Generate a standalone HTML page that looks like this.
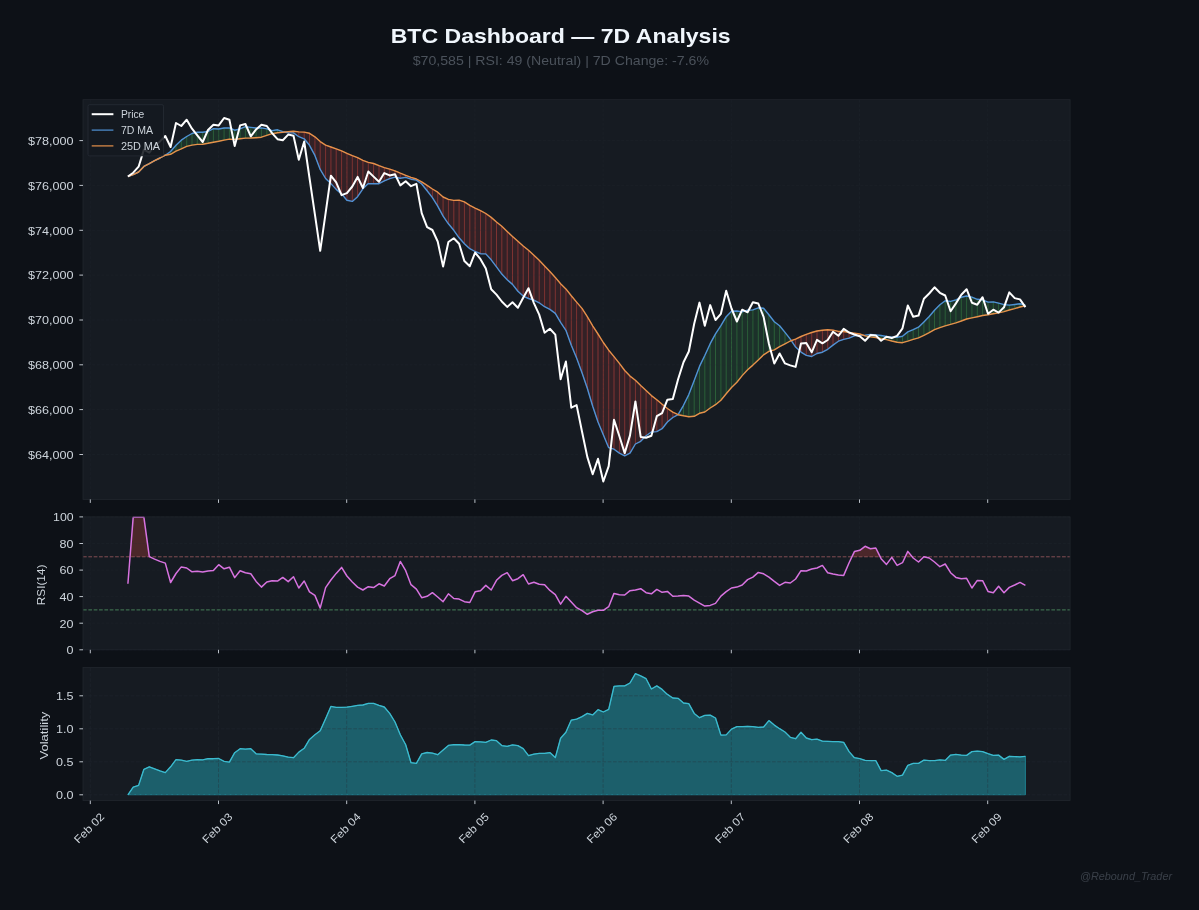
<!DOCTYPE html>
<html><head><meta charset="utf-8"><title>BTC Dashboard</title>
<style>html,body{margin:0;padding:0;background:#0d1117;overflow:hidden}svg{display:block;transform:translateZ(0);will-change:transform}</style></head>
<body>
<svg width="1199" height="910" viewBox="0 0 1199 910" font-family="Liberation Sans, sans-serif">
<rect width="1199" height="910" fill="#0d1117"/>
<text x="390.7" y="43.3" font-size="20.5" fill="#f0f6fc" text-anchor="start" textLength="340" lengthAdjust="spacingAndGlyphs" font-weight="bold">BTC Dashboard — 7D Analysis</text>
<text x="412.7" y="65" font-size="13" fill="#4b525b" text-anchor="start" textLength="296.3" lengthAdjust="spacingAndGlyphs">$70,585 | RSI: 49 (Neutral) | 7D Change: -7.6%</text>
<rect x="83.0" y="99.7" width="987.1" height="399.7" fill="#161b22"/>
<g>
<polygon points="165.3,155.2 170.6,151.5 170.6,154.3 165.3,155.2" fill="#48b85a" fill-opacity="0.14" stroke="#48b85a" stroke-opacity="0.24" stroke-width="0.8"/>
<polygon points="170.6,151.5 176,145.3 176,151.2 170.6,154.3" fill="#48b85a" fill-opacity="0.14" stroke="#48b85a" stroke-opacity="0.24" stroke-width="0.8"/>
<polygon points="176,145.3 181.3,140.2 181.3,148.9 176,151.2" fill="#48b85a" fill-opacity="0.14" stroke="#48b85a" stroke-opacity="0.24" stroke-width="0.8"/>
<polygon points="181.3,140.2 186.7,136.5 186.7,146.4 181.3,148.9" fill="#48b85a" fill-opacity="0.14" stroke="#48b85a" stroke-opacity="0.24" stroke-width="0.8"/>
<polygon points="186.7,136.5 192,133.5 192,145.1 186.7,146.4" fill="#48b85a" fill-opacity="0.14" stroke="#48b85a" stroke-opacity="0.24" stroke-width="0.8"/>
<polygon points="192,133.5 197.3,132.1 197.3,144.4 192,145.1" fill="#48b85a" fill-opacity="0.14" stroke="#48b85a" stroke-opacity="0.24" stroke-width="0.8"/>
<polygon points="197.3,132.1 202.7,132.2 202.7,144.2 197.3,144.4" fill="#48b85a" fill-opacity="0.14" stroke="#48b85a" stroke-opacity="0.24" stroke-width="0.8"/>
<polygon points="202.7,132.2 208,131.5 208,143.3 202.7,144.2" fill="#48b85a" fill-opacity="0.14" stroke="#48b85a" stroke-opacity="0.24" stroke-width="0.8"/>
<polygon points="208,131.5 213.4,128.7 213.4,142.2 208,143.3" fill="#48b85a" fill-opacity="0.14" stroke="#48b85a" stroke-opacity="0.24" stroke-width="0.8"/>
<polygon points="213.4,128.7 218.7,129 218.7,141.3 213.4,142.2" fill="#48b85a" fill-opacity="0.14" stroke="#48b85a" stroke-opacity="0.24" stroke-width="0.8"/>
<polygon points="218.7,129 224.1,128 224.1,140.1 218.7,141.3" fill="#48b85a" fill-opacity="0.14" stroke="#48b85a" stroke-opacity="0.24" stroke-width="0.8"/>
<polygon points="224.1,128 229.4,128 229.4,139.1 224.1,140.1" fill="#48b85a" fill-opacity="0.14" stroke="#48b85a" stroke-opacity="0.24" stroke-width="0.8"/>
<polygon points="229.4,128 234.7,130.2 234.7,139.4 229.4,139.1" fill="#48b85a" fill-opacity="0.14" stroke="#48b85a" stroke-opacity="0.24" stroke-width="0.8"/>
<polygon points="234.7,130.2 240.1,128.9 240.1,138.8 234.7,139.4" fill="#48b85a" fill-opacity="0.14" stroke="#48b85a" stroke-opacity="0.24" stroke-width="0.8"/>
<polygon points="240.1,128.9 245.4,126.7 245.4,138.1 240.1,138.8" fill="#48b85a" fill-opacity="0.14" stroke="#48b85a" stroke-opacity="0.24" stroke-width="0.8"/>
<polygon points="245.4,126.7 250.8,127.4 250.8,138 245.4,138.1" fill="#48b85a" fill-opacity="0.14" stroke="#48b85a" stroke-opacity="0.24" stroke-width="0.8"/>
<polygon points="250.8,127.4 256.1,128 256.1,137.7 250.8,138" fill="#48b85a" fill-opacity="0.14" stroke="#48b85a" stroke-opacity="0.24" stroke-width="0.8"/>
<polygon points="256.1,128 261.4,127.9 261.4,137.2 256.1,137.7" fill="#48b85a" fill-opacity="0.14" stroke="#48b85a" stroke-opacity="0.24" stroke-width="0.8"/>
<polygon points="261.4,127.9 266.8,128.9 266.8,135.3 261.4,137.2" fill="#48b85a" fill-opacity="0.14" stroke="#48b85a" stroke-opacity="0.24" stroke-width="0.8"/>
<polygon points="266.8,128.9 272.1,130.6 272.1,133.7 266.8,135.3" fill="#48b85a" fill-opacity="0.14" stroke="#48b85a" stroke-opacity="0.24" stroke-width="0.8"/>
<polygon points="272.1,130.6 277.5,129.8 277.5,132.7 272.1,133.7" fill="#48b85a" fill-opacity="0.14" stroke="#48b85a" stroke-opacity="0.24" stroke-width="0.8"/>
<polygon points="277.5,129.8 282.8,131.6 282.8,132.3 277.5,132.7" fill="#48b85a" fill-opacity="0.14" stroke="#48b85a" stroke-opacity="0.24" stroke-width="0.8"/>
<polygon points="282.8,131.6 288.2,132.9 288.2,131.6 282.8,132.3" fill="#f85149" fill-opacity="0.13" stroke="#f85149" stroke-opacity="0.28" stroke-width="0.8"/>
<polygon points="288.2,132.9 293.5,132.9 293.5,131.2 288.2,131.6" fill="#f85149" fill-opacity="0.13" stroke="#f85149" stroke-opacity="0.28" stroke-width="0.8"/>
<polygon points="293.5,132.9 298.8,136.7 298.8,131.9 293.5,131.2" fill="#f85149" fill-opacity="0.13" stroke="#f85149" stroke-opacity="0.28" stroke-width="0.8"/>
<polygon points="298.8,136.7 304.2,138.8 304.2,132.1 298.8,131.9" fill="#f85149" fill-opacity="0.13" stroke="#f85149" stroke-opacity="0.28" stroke-width="0.8"/>
<polygon points="304.2,138.8 309.5,145.3 309.5,133.3 304.2,132.1" fill="#f85149" fill-opacity="0.13" stroke="#f85149" stroke-opacity="0.28" stroke-width="0.8"/>
<polygon points="309.5,145.3 314.9,155.4 314.9,136.8 309.5,133.3" fill="#f85149" fill-opacity="0.13" stroke="#f85149" stroke-opacity="0.28" stroke-width="0.8"/>
<polygon points="314.9,155.4 320.2,169.4 320.2,141.6 314.9,136.8" fill="#f85149" fill-opacity="0.13" stroke="#f85149" stroke-opacity="0.28" stroke-width="0.8"/>
<polygon points="320.2,169.4 325.6,178.5 325.6,145.2 320.2,141.6" fill="#f85149" fill-opacity="0.13" stroke="#f85149" stroke-opacity="0.28" stroke-width="0.8"/>
<polygon points="325.6,178.5 330.9,183.6 330.9,147 325.6,145.2" fill="#f85149" fill-opacity="0.13" stroke="#f85149" stroke-opacity="0.28" stroke-width="0.8"/>
<polygon points="330.9,183.6 336.2,189.4 336.2,148.8 330.9,147" fill="#f85149" fill-opacity="0.13" stroke="#f85149" stroke-opacity="0.28" stroke-width="0.8"/>
<polygon points="336.2,189.4 341.6,193.9 341.6,150.9 336.2,148.8" fill="#f85149" fill-opacity="0.13" stroke="#f85149" stroke-opacity="0.28" stroke-width="0.8"/>
<polygon points="341.6,193.9 346.9,200.3 346.9,153.3 341.6,150.9" fill="#f85149" fill-opacity="0.13" stroke="#f85149" stroke-opacity="0.28" stroke-width="0.8"/>
<polygon points="346.9,200.3 352.3,201.4 352.3,155.7 346.9,153.3" fill="#f85149" fill-opacity="0.13" stroke="#f85149" stroke-opacity="0.28" stroke-width="0.8"/>
<polygon points="352.3,201.4 357.6,196.7 357.6,157.7 352.3,155.7" fill="#f85149" fill-opacity="0.13" stroke="#f85149" stroke-opacity="0.28" stroke-width="0.8"/>
<polygon points="357.6,196.7 362.9,188.8 362.9,160.4 357.6,157.7" fill="#f85149" fill-opacity="0.13" stroke="#f85149" stroke-opacity="0.28" stroke-width="0.8"/>
<polygon points="362.9,188.8 368.3,183.6 368.3,162.4 362.9,160.4" fill="#f85149" fill-opacity="0.13" stroke="#f85149" stroke-opacity="0.28" stroke-width="0.8"/>
<polygon points="368.3,183.6 373.6,183.8 373.6,163.5 368.3,162.4" fill="#f85149" fill-opacity="0.13" stroke="#f85149" stroke-opacity="0.28" stroke-width="0.8"/>
<polygon points="373.6,183.8 379,183.7 379,165.7 373.6,163.5" fill="#f85149" fill-opacity="0.13" stroke="#f85149" stroke-opacity="0.28" stroke-width="0.8"/>
<polygon points="379,183.7 384.3,180.9 384.3,167.6 379,165.7" fill="#f85149" fill-opacity="0.13" stroke="#f85149" stroke-opacity="0.28" stroke-width="0.8"/>
<polygon points="384.3,180.9 389.7,178.7 389.7,169.1 384.3,167.6" fill="#f85149" fill-opacity="0.13" stroke="#f85149" stroke-opacity="0.28" stroke-width="0.8"/>
<polygon points="389.7,178.7 395,177.2 395,170.8 389.7,169.1" fill="#f85149" fill-opacity="0.13" stroke="#f85149" stroke-opacity="0.28" stroke-width="0.8"/>
<polygon points="395,177.2 400.3,178.2 400.3,173.2 395,170.8" fill="#f85149" fill-opacity="0.13" stroke="#f85149" stroke-opacity="0.28" stroke-width="0.8"/>
<polygon points="400.3,178.2 405.7,177.4 405.7,175.3 400.3,173.2" fill="#f85149" fill-opacity="0.13" stroke="#f85149" stroke-opacity="0.28" stroke-width="0.8"/>
<polygon points="405.7,177.4 411,179.2 411,177.3 405.7,175.3" fill="#f85149" fill-opacity="0.13" stroke="#f85149" stroke-opacity="0.28" stroke-width="0.8"/>
<polygon points="411,179.2 416.4,180.1 416.4,179 411,177.3" fill="#f85149" fill-opacity="0.13" stroke="#f85149" stroke-opacity="0.28" stroke-width="0.8"/>
<polygon points="416.4,180.1 421.7,184 421.7,181.8 416.4,179" fill="#f85149" fill-opacity="0.13" stroke="#f85149" stroke-opacity="0.28" stroke-width="0.8"/>
<polygon points="421.7,184 427.1,190.8 427.1,185.4 421.7,181.8" fill="#f85149" fill-opacity="0.13" stroke="#f85149" stroke-opacity="0.28" stroke-width="0.8"/>
<polygon points="427.1,190.8 432.4,197.6 432.4,189 427.1,185.4" fill="#f85149" fill-opacity="0.13" stroke="#f85149" stroke-opacity="0.28" stroke-width="0.8"/>
<polygon points="432.4,197.6 437.7,206.1 437.7,192.2 432.4,189" fill="#f85149" fill-opacity="0.13" stroke="#f85149" stroke-opacity="0.28" stroke-width="0.8"/>
<polygon points="437.7,206.1 443.1,216.2 443.1,197 437.7,192.2" fill="#f85149" fill-opacity="0.13" stroke="#f85149" stroke-opacity="0.28" stroke-width="0.8"/>
<polygon points="443.1,216.2 448.4,223.8 448.4,199.4 443.1,197" fill="#f85149" fill-opacity="0.13" stroke="#f85149" stroke-opacity="0.28" stroke-width="0.8"/>
<polygon points="448.4,223.8 453.8,230.3 453.8,200.4 448.4,199.4" fill="#f85149" fill-opacity="0.13" stroke="#f85149" stroke-opacity="0.28" stroke-width="0.8"/>
<polygon points="453.8,230.3 459.1,237.8 459.1,200.1 453.8,200.4" fill="#f85149" fill-opacity="0.13" stroke="#f85149" stroke-opacity="0.28" stroke-width="0.8"/>
<polygon points="459.1,237.8 464.4,243.8 464.4,201.9 459.1,200.1" fill="#f85149" fill-opacity="0.13" stroke="#f85149" stroke-opacity="0.28" stroke-width="0.8"/>
<polygon points="464.4,243.8 469.8,248.7 469.8,205.4 464.4,201.9" fill="#f85149" fill-opacity="0.13" stroke="#f85149" stroke-opacity="0.28" stroke-width="0.8"/>
<polygon points="469.8,248.7 475.1,251.5 475.1,208.1 469.8,205.4" fill="#f85149" fill-opacity="0.13" stroke="#f85149" stroke-opacity="0.28" stroke-width="0.8"/>
<polygon points="475.1,251.5 480.5,253.7 480.5,210.6 475.1,208.1" fill="#f85149" fill-opacity="0.13" stroke="#f85149" stroke-opacity="0.28" stroke-width="0.8"/>
<polygon points="480.5,253.7 485.8,253.9 485.8,213.5 480.5,210.6" fill="#f85149" fill-opacity="0.13" stroke="#f85149" stroke-opacity="0.28" stroke-width="0.8"/>
<polygon points="485.8,253.9 491.2,259.8 491.2,217.4 485.8,213.5" fill="#f85149" fill-opacity="0.13" stroke="#f85149" stroke-opacity="0.28" stroke-width="0.8"/>
<polygon points="491.2,259.8 496.5,266.9 496.5,222 491.2,217.4" fill="#f85149" fill-opacity="0.13" stroke="#f85149" stroke-opacity="0.28" stroke-width="0.8"/>
<polygon points="496.5,266.9 501.8,274.1 501.8,226.3 496.5,222" fill="#f85149" fill-opacity="0.13" stroke="#f85149" stroke-opacity="0.28" stroke-width="0.8"/>
<polygon points="501.8,274.1 507.2,279.8 507.2,231.5 501.8,226.3" fill="#f85149" fill-opacity="0.13" stroke="#f85149" stroke-opacity="0.28" stroke-width="0.8"/>
<polygon points="507.2,279.8 512.5,284.4 512.5,236.4 507.2,231.5" fill="#f85149" fill-opacity="0.13" stroke="#f85149" stroke-opacity="0.28" stroke-width="0.8"/>
<polygon points="512.5,284.4 517.9,291.2 517.9,241.2 512.5,236.4" fill="#f85149" fill-opacity="0.13" stroke="#f85149" stroke-opacity="0.28" stroke-width="0.8"/>
<polygon points="517.9,291.2 523.2,296.1 523.2,246 517.9,241.2" fill="#f85149" fill-opacity="0.13" stroke="#f85149" stroke-opacity="0.28" stroke-width="0.8"/>
<polygon points="523.2,296.1 528.5,298.5 528.5,250.3 523.2,246" fill="#f85149" fill-opacity="0.13" stroke="#f85149" stroke-opacity="0.28" stroke-width="0.8"/>
<polygon points="528.5,298.5 533.9,300.2 533.9,255.3 528.5,250.3" fill="#f85149" fill-opacity="0.13" stroke="#f85149" stroke-opacity="0.28" stroke-width="0.8"/>
<polygon points="533.9,300.2 539.2,302.8 539.2,260.3 533.9,255.3" fill="#f85149" fill-opacity="0.13" stroke="#f85149" stroke-opacity="0.28" stroke-width="0.8"/>
<polygon points="539.2,302.8 544.6,306.7 544.6,266.1 539.2,260.3" fill="#f85149" fill-opacity="0.13" stroke="#f85149" stroke-opacity="0.28" stroke-width="0.8"/>
<polygon points="544.6,306.7 549.9,309.4 549.9,271.6 544.6,266.1" fill="#f85149" fill-opacity="0.13" stroke="#f85149" stroke-opacity="0.28" stroke-width="0.8"/>
<polygon points="549.9,309.4 555.3,313.4 555.3,277.4 549.9,271.6" fill="#f85149" fill-opacity="0.13" stroke="#f85149" stroke-opacity="0.28" stroke-width="0.8"/>
<polygon points="555.3,313.4 560.6,322.4 560.6,283.8 555.3,277.4" fill="#f85149" fill-opacity="0.13" stroke="#f85149" stroke-opacity="0.28" stroke-width="0.8"/>
<polygon points="560.6,322.4 565.9,330.3 565.9,288.9 560.6,283.8" fill="#f85149" fill-opacity="0.13" stroke="#f85149" stroke-opacity="0.28" stroke-width="0.8"/>
<polygon points="565.9,330.3 571.3,345.3 571.3,295.8 565.9,288.9" fill="#f85149" fill-opacity="0.13" stroke="#f85149" stroke-opacity="0.28" stroke-width="0.8"/>
<polygon points="571.3,345.3 576.6,358 576.6,302.1 571.3,295.8" fill="#f85149" fill-opacity="0.13" stroke="#f85149" stroke-opacity="0.28" stroke-width="0.8"/>
<polygon points="576.6,358 582,372.7 582,308.4 576.6,302.1" fill="#f85149" fill-opacity="0.13" stroke="#f85149" stroke-opacity="0.28" stroke-width="0.8"/>
<polygon points="582,372.7 587.3,388.2 587.3,316.7 582,308.4" fill="#f85149" fill-opacity="0.13" stroke="#f85149" stroke-opacity="0.28" stroke-width="0.8"/>
<polygon points="587.3,388.2 592.7,406.3 592.7,325.8 587.3,316.7" fill="#f85149" fill-opacity="0.13" stroke="#f85149" stroke-opacity="0.28" stroke-width="0.8"/>
<polygon points="592.7,406.3 598,421.9 598,334 592.7,325.8" fill="#f85149" fill-opacity="0.13" stroke="#f85149" stroke-opacity="0.28" stroke-width="0.8"/>
<polygon points="598,421.9 603.3,434.7 603.3,342.5 598,334" fill="#f85149" fill-opacity="0.13" stroke="#f85149" stroke-opacity="0.28" stroke-width="0.8"/>
<polygon points="603.3,434.7 608.7,447.7 608.7,350.2 603.3,342.5" fill="#f85149" fill-opacity="0.13" stroke="#f85149" stroke-opacity="0.28" stroke-width="0.8"/>
<polygon points="608.7,447.7 614,449.2 614,356.6 608.7,350.2" fill="#f85149" fill-opacity="0.13" stroke="#f85149" stroke-opacity="0.28" stroke-width="0.8"/>
<polygon points="614,449.2 619.4,453.1 619.4,363.4 614,356.6" fill="#f85149" fill-opacity="0.13" stroke="#f85149" stroke-opacity="0.28" stroke-width="0.8"/>
<polygon points="619.4,453.1 624.7,455.8 624.7,370.5 619.4,363.4" fill="#f85149" fill-opacity="0.13" stroke="#f85149" stroke-opacity="0.28" stroke-width="0.8"/>
<polygon points="624.7,455.8 630,453.1 630,376.1 624.7,370.5" fill="#f85149" fill-opacity="0.13" stroke="#f85149" stroke-opacity="0.28" stroke-width="0.8"/>
<polygon points="630,453.1 635.4,444 635.4,380.3 630,376.1" fill="#f85149" fill-opacity="0.13" stroke="#f85149" stroke-opacity="0.28" stroke-width="0.8"/>
<polygon points="635.4,444 640.7,441.3 640.7,385.5 635.4,380.3" fill="#f85149" fill-opacity="0.13" stroke="#f85149" stroke-opacity="0.28" stroke-width="0.8"/>
<polygon points="640.7,441.3 646.1,435.8 646.1,390.5 640.7,385.5" fill="#f85149" fill-opacity="0.13" stroke="#f85149" stroke-opacity="0.28" stroke-width="0.8"/>
<polygon points="646.1,435.8 651.4,432 651.4,395.6 646.1,390.5" fill="#f85149" fill-opacity="0.13" stroke="#f85149" stroke-opacity="0.28" stroke-width="0.8"/>
<polygon points="651.4,432 656.8,431.6 656.8,399.8 651.4,395.6" fill="#f85149" fill-opacity="0.13" stroke="#f85149" stroke-opacity="0.28" stroke-width="0.8"/>
<polygon points="656.8,431.6 662.1,428.7 662.1,404.2 656.8,399.8" fill="#f85149" fill-opacity="0.13" stroke="#f85149" stroke-opacity="0.28" stroke-width="0.8"/>
<polygon points="662.1,428.7 667.4,422 667.4,408.5 662.1,404.2" fill="#f85149" fill-opacity="0.13" stroke="#f85149" stroke-opacity="0.28" stroke-width="0.8"/>
<polygon points="667.4,422 672.8,417.5 672.8,412.2 667.4,408.5" fill="#f85149" fill-opacity="0.13" stroke="#f85149" stroke-opacity="0.28" stroke-width="0.8"/>
<polygon points="672.8,417.5 678.1,414.7 678.1,414.7 672.8,412.2" fill="#f85149" fill-opacity="0.13" stroke="#f85149" stroke-opacity="0.28" stroke-width="0.8"/>
<polygon points="678.1,414.7 683.5,405.3 683.5,415.8 678.1,414.7" fill="#48b85a" fill-opacity="0.14" stroke="#48b85a" stroke-opacity="0.24" stroke-width="0.8"/>
<polygon points="683.5,405.3 688.8,394.6 688.8,416.7 683.5,415.8" fill="#48b85a" fill-opacity="0.14" stroke="#48b85a" stroke-opacity="0.24" stroke-width="0.8"/>
<polygon points="688.8,394.6 694.2,380.6 694.2,416.3 688.8,416.7" fill="#48b85a" fill-opacity="0.14" stroke="#48b85a" stroke-opacity="0.24" stroke-width="0.8"/>
<polygon points="694.2,380.6 699.5,366.4 699.5,413.3 694.2,416.3" fill="#48b85a" fill-opacity="0.14" stroke="#48b85a" stroke-opacity="0.24" stroke-width="0.8"/>
<polygon points="699.5,366.4 704.8,355.5 704.8,412 699.5,413.3" fill="#48b85a" fill-opacity="0.14" stroke="#48b85a" stroke-opacity="0.24" stroke-width="0.8"/>
<polygon points="704.8,355.5 710.2,343.7 710.2,408 704.8,412" fill="#48b85a" fill-opacity="0.14" stroke="#48b85a" stroke-opacity="0.24" stroke-width="0.8"/>
<polygon points="710.2,343.7 715.5,333.8 715.5,404.7 710.2,408" fill="#48b85a" fill-opacity="0.14" stroke="#48b85a" stroke-opacity="0.24" stroke-width="0.8"/>
<polygon points="715.5,333.8 720.9,325.6 720.9,400.2 715.5,404.7" fill="#48b85a" fill-opacity="0.14" stroke="#48b85a" stroke-opacity="0.24" stroke-width="0.8"/>
<polygon points="720.9,325.6 726.2,316.7 726.2,393.8 720.9,400.2" fill="#48b85a" fill-opacity="0.14" stroke="#48b85a" stroke-opacity="0.24" stroke-width="0.8"/>
<polygon points="726.2,316.7 731.5,311.3 731.5,387.5 726.2,393.8" fill="#48b85a" fill-opacity="0.14" stroke="#48b85a" stroke-opacity="0.24" stroke-width="0.8"/>
<polygon points="731.5,311.3 736.9,311 736.9,382.2 731.5,387.5" fill="#48b85a" fill-opacity="0.14" stroke="#48b85a" stroke-opacity="0.24" stroke-width="0.8"/>
<polygon points="736.9,311 742.2,311.9 742.2,375.6 736.9,382.2" fill="#48b85a" fill-opacity="0.14" stroke="#48b85a" stroke-opacity="0.24" stroke-width="0.8"/>
<polygon points="742.2,311.9 747.6,310.2 747.6,369.7 742.2,375.6" fill="#48b85a" fill-opacity="0.14" stroke="#48b85a" stroke-opacity="0.24" stroke-width="0.8"/>
<polygon points="747.6,310.2 752.9,309.9 752.9,365.1 747.6,369.7" fill="#48b85a" fill-opacity="0.14" stroke="#48b85a" stroke-opacity="0.24" stroke-width="0.8"/>
<polygon points="752.9,309.9 758.3,307.8 758.3,360 752.9,365.1" fill="#48b85a" fill-opacity="0.14" stroke="#48b85a" stroke-opacity="0.24" stroke-width="0.8"/>
<polygon points="758.3,307.8 763.6,308.2 763.6,354.8 758.3,360" fill="#48b85a" fill-opacity="0.14" stroke="#48b85a" stroke-opacity="0.24" stroke-width="0.8"/>
<polygon points="763.6,308.2 768.9,314.8 768.9,351.3 763.6,354.8" fill="#48b85a" fill-opacity="0.14" stroke="#48b85a" stroke-opacity="0.24" stroke-width="0.8"/>
<polygon points="768.9,314.8 774.3,321.7 774.3,349.8 768.9,351.3" fill="#48b85a" fill-opacity="0.14" stroke="#48b85a" stroke-opacity="0.24" stroke-width="0.8"/>
<polygon points="774.3,321.7 779.6,325.7 779.6,346.6 774.3,349.8" fill="#48b85a" fill-opacity="0.14" stroke="#48b85a" stroke-opacity="0.24" stroke-width="0.8"/>
<polygon points="779.6,325.7 785,332.4 785,343.8 779.6,346.6" fill="#48b85a" fill-opacity="0.14" stroke="#48b85a" stroke-opacity="0.24" stroke-width="0.8"/>
<polygon points="785,332.4 790.3,339.1 790.3,341 785,343.8" fill="#48b85a" fill-opacity="0.14" stroke="#48b85a" stroke-opacity="0.24" stroke-width="0.8"/>
<polygon points="790.3,339.1 795.6,347.1 795.6,339.2 790.3,341" fill="#f85149" fill-opacity="0.13" stroke="#f85149" stroke-opacity="0.28" stroke-width="0.8"/>
<polygon points="795.6,347.1 801,352.1 801,336.5 795.6,339.2" fill="#f85149" fill-opacity="0.13" stroke="#f85149" stroke-opacity="0.28" stroke-width="0.8"/>
<polygon points="801,352.1 806.3,355.4 806.3,334.3 801,336.5" fill="#f85149" fill-opacity="0.13" stroke="#f85149" stroke-opacity="0.28" stroke-width="0.8"/>
<polygon points="806.3,355.4 811.7,356.5 811.7,332.5 806.3,334.3" fill="#f85149" fill-opacity="0.13" stroke="#f85149" stroke-opacity="0.28" stroke-width="0.8"/>
<polygon points="811.7,356.5 817,353.5 817,331 811.7,332.5" fill="#f85149" fill-opacity="0.13" stroke="#f85149" stroke-opacity="0.28" stroke-width="0.8"/>
<polygon points="817,353.5 822.4,352.2 822.4,330.3 817,331" fill="#f85149" fill-opacity="0.13" stroke="#f85149" stroke-opacity="0.28" stroke-width="0.8"/>
<polygon points="822.4,352.2 827.7,349.3 827.7,329.8 822.4,330.3" fill="#f85149" fill-opacity="0.13" stroke="#f85149" stroke-opacity="0.28" stroke-width="0.8"/>
<polygon points="827.7,349.3 833,345.1 833,330.1 827.7,329.8" fill="#f85149" fill-opacity="0.13" stroke="#f85149" stroke-opacity="0.28" stroke-width="0.8"/>
<polygon points="833,345.1 838.4,341.2 838.4,331.4 833,330.1" fill="#f85149" fill-opacity="0.13" stroke="#f85149" stroke-opacity="0.28" stroke-width="0.8"/>
<polygon points="838.4,341.2 843.7,339.4 843.7,331.5 838.4,331.4" fill="#f85149" fill-opacity="0.13" stroke="#f85149" stroke-opacity="0.28" stroke-width="0.8"/>
<polygon points="843.7,339.4 849.1,338.1 849.1,332.6 843.7,331.5" fill="#f85149" fill-opacity="0.13" stroke="#f85149" stroke-opacity="0.28" stroke-width="0.8"/>
<polygon points="849.1,338.1 854.4,335.8 854.4,333.1 849.1,332.6" fill="#f85149" fill-opacity="0.13" stroke="#f85149" stroke-opacity="0.28" stroke-width="0.8"/>
<polygon points="854.4,335.8 859.8,335.4 859.8,334 854.4,333.1" fill="#f85149" fill-opacity="0.13" stroke="#f85149" stroke-opacity="0.28" stroke-width="0.8"/>
<polygon points="859.8,335.4 865.1,335.1 865.1,335.9 859.8,334" fill="#f85149" fill-opacity="0.13" stroke="#f85149" stroke-opacity="0.28" stroke-width="0.8"/>
<polygon points="865.1,335.1 870.4,334.4 870.4,336.9 865.1,335.9" fill="#48b85a" fill-opacity="0.14" stroke="#48b85a" stroke-opacity="0.24" stroke-width="0.8"/>
<polygon points="870.4,334.4 875.8,334.9 875.8,337.5 870.4,336.9" fill="#48b85a" fill-opacity="0.14" stroke="#48b85a" stroke-opacity="0.24" stroke-width="0.8"/>
<polygon points="875.8,334.9 881.1,335.5 881.1,338.7 875.8,337.5" fill="#48b85a" fill-opacity="0.14" stroke="#48b85a" stroke-opacity="0.24" stroke-width="0.8"/>
<polygon points="881.1,335.5 886.5,336.5 886.5,339.6 881.1,338.7" fill="#48b85a" fill-opacity="0.14" stroke="#48b85a" stroke-opacity="0.24" stroke-width="0.8"/>
<polygon points="886.5,336.5 891.8,337.2 891.8,341 886.5,339.6" fill="#48b85a" fill-opacity="0.14" stroke="#48b85a" stroke-opacity="0.24" stroke-width="0.8"/>
<polygon points="891.8,337.2 897.1,337.3 897.1,342.2 891.8,341" fill="#48b85a" fill-opacity="0.14" stroke="#48b85a" stroke-opacity="0.24" stroke-width="0.8"/>
<polygon points="897.1,337.3 902.5,336.3 902.5,342.7 897.1,342.2" fill="#48b85a" fill-opacity="0.14" stroke="#48b85a" stroke-opacity="0.24" stroke-width="0.8"/>
<polygon points="902.5,336.3 907.8,331.9 907.8,341.2 902.5,342.7" fill="#48b85a" fill-opacity="0.14" stroke="#48b85a" stroke-opacity="0.24" stroke-width="0.8"/>
<polygon points="907.8,331.9 913.2,329.6 913.2,339.4 907.8,341.2" fill="#48b85a" fill-opacity="0.14" stroke="#48b85a" stroke-opacity="0.24" stroke-width="0.8"/>
<polygon points="913.2,329.6 918.5,327.2 918.5,337.9 913.2,339.4" fill="#48b85a" fill-opacity="0.14" stroke="#48b85a" stroke-opacity="0.24" stroke-width="0.8"/>
<polygon points="918.5,327.2 923.9,321.9 923.9,335.4 918.5,337.9" fill="#48b85a" fill-opacity="0.14" stroke="#48b85a" stroke-opacity="0.24" stroke-width="0.8"/>
<polygon points="923.9,321.9 929.2,316.5 929.2,332.7 923.9,335.4" fill="#48b85a" fill-opacity="0.14" stroke="#48b85a" stroke-opacity="0.24" stroke-width="0.8"/>
<polygon points="929.2,316.5 934.5,310.2 934.5,329.6 929.2,332.7" fill="#48b85a" fill-opacity="0.14" stroke="#48b85a" stroke-opacity="0.24" stroke-width="0.8"/>
<polygon points="934.5,310.2 939.9,304.8 939.9,327.7 934.5,329.6" fill="#48b85a" fill-opacity="0.14" stroke="#48b85a" stroke-opacity="0.24" stroke-width="0.8"/>
<polygon points="939.9,304.8 945.2,300.7 945.2,325.8 939.9,327.7" fill="#48b85a" fill-opacity="0.14" stroke="#48b85a" stroke-opacity="0.24" stroke-width="0.8"/>
<polygon points="945.2,300.7 950.6,301.4 950.6,324.3 945.2,325.8" fill="#48b85a" fill-opacity="0.14" stroke="#48b85a" stroke-opacity="0.24" stroke-width="0.8"/>
<polygon points="950.6,301.4 955.9,299.8 955.9,322.9 950.6,324.3" fill="#48b85a" fill-opacity="0.14" stroke="#48b85a" stroke-opacity="0.24" stroke-width="0.8"/>
<polygon points="955.9,299.8 961.3,297.2 961.3,321 955.9,322.9" fill="#48b85a" fill-opacity="0.14" stroke="#48b85a" stroke-opacity="0.24" stroke-width="0.8"/>
<polygon points="961.3,297.2 966.6,296 966.6,319 961.3,321" fill="#48b85a" fill-opacity="0.14" stroke="#48b85a" stroke-opacity="0.24" stroke-width="0.8"/>
<polygon points="966.6,296 971.9,297.1 971.9,317.9 966.6,319" fill="#48b85a" fill-opacity="0.14" stroke="#48b85a" stroke-opacity="0.24" stroke-width="0.8"/>
<polygon points="971.9,297.1 977.3,299.3 977.3,316.7 971.9,317.9" fill="#48b85a" fill-opacity="0.14" stroke="#48b85a" stroke-opacity="0.24" stroke-width="0.8"/>
<polygon points="977.3,299.3 982.6,299.8 982.6,315.5 977.3,316.7" fill="#48b85a" fill-opacity="0.14" stroke="#48b85a" stroke-opacity="0.24" stroke-width="0.8"/>
<polygon points="982.6,299.8 988,302.1 988,314.8 982.6,315.5" fill="#48b85a" fill-opacity="0.14" stroke="#48b85a" stroke-opacity="0.24" stroke-width="0.8"/>
<polygon points="988,302.1 993.3,301.9 993.3,313.8 988,314.8" fill="#48b85a" fill-opacity="0.14" stroke="#48b85a" stroke-opacity="0.24" stroke-width="0.8"/>
<polygon points="993.3,301.9 998.6,303.1 998.6,312.9 993.3,313.8" fill="#48b85a" fill-opacity="0.14" stroke="#48b85a" stroke-opacity="0.24" stroke-width="0.8"/>
<polygon points="998.6,303.1 1004,304.6 1004,311.6 998.6,312.9" fill="#48b85a" fill-opacity="0.14" stroke="#48b85a" stroke-opacity="0.24" stroke-width="0.8"/>
<polygon points="1004,304.6 1009.3,305.1 1009.3,310 1004,311.6" fill="#48b85a" fill-opacity="0.14" stroke="#48b85a" stroke-opacity="0.24" stroke-width="0.8"/>
<polygon points="1009.3,305.1 1014.7,304.5 1014.7,308.6 1009.3,310" fill="#48b85a" fill-opacity="0.14" stroke="#48b85a" stroke-opacity="0.24" stroke-width="0.8"/>
<polygon points="1014.7,304.5 1020,303.8 1020,307 1014.7,308.6" fill="#48b85a" fill-opacity="0.14" stroke="#48b85a" stroke-opacity="0.24" stroke-width="0.8"/>
<polygon points="1020,303.8 1025.4,305.1 1025.4,305.8 1020,307" fill="#48b85a" fill-opacity="0.14" stroke="#48b85a" stroke-opacity="0.24" stroke-width="0.8"/>
</g>
<g stroke="#262c35" stroke-width="0.7" opacity="0.32" stroke-dasharray="3,1.6">
<line x1="90.3" y1="99.7" x2="90.3" y2="499.4"/>
<line x1="218.5" y1="99.7" x2="218.5" y2="499.4"/>
<line x1="346.7" y1="99.7" x2="346.7" y2="499.4"/>
<line x1="474.9" y1="99.7" x2="474.9" y2="499.4"/>
<line x1="603.1" y1="99.7" x2="603.1" y2="499.4"/>
<line x1="731.3" y1="99.7" x2="731.3" y2="499.4"/>
<line x1="859.5" y1="99.7" x2="859.5" y2="499.4"/>
<line x1="987.7" y1="99.7" x2="987.7" y2="499.4"/>
<line x1="83.0" y1="140.6" x2="1070.1" y2="140.6"/>
<line x1="83.0" y1="185.4" x2="1070.1" y2="185.4"/>
<line x1="83.0" y1="230.3" x2="1070.1" y2="230.3"/>
<line x1="83.0" y1="275.1" x2="1070.1" y2="275.1"/>
<line x1="83.0" y1="320" x2="1070.1" y2="320"/>
<line x1="83.0" y1="364.8" x2="1070.1" y2="364.8"/>
<line x1="83.0" y1="409.6" x2="1070.1" y2="409.6"/>
<line x1="83.0" y1="454.5" x2="1070.1" y2="454.5"/>
</g>
<polyline points="127.9,176.5 133.2,174.6 138.6,172 143.9,166.4 149.3,163.7 154.6,160.7 160,158 165.3,155.2 170.6,151.5 176,145.3 181.3,140.2 186.7,136.5 192,133.5 197.3,132.1 202.7,132.2 208,131.5 213.4,128.7 218.7,129 224.1,128 229.4,128 234.7,130.2 240.1,128.9 245.4,126.7 250.8,127.4 256.1,128 261.4,127.9 266.8,128.9 272.1,130.6 277.5,129.8 282.8,131.6 288.2,132.9 293.5,132.9 298.8,136.7 304.2,138.8 309.5,145.3 314.9,155.4 320.2,169.4 325.6,178.5 330.9,183.6 336.2,189.4 341.6,193.9 346.9,200.3 352.3,201.4 357.6,196.7 362.9,188.8 368.3,183.6 373.6,183.8 379,183.7 384.3,180.9 389.7,178.7 395,177.2 400.3,178.2 405.7,177.4 411,179.2 416.4,180.1 421.7,184 427.1,190.8 432.4,197.6 437.7,206.1 443.1,216.2 448.4,223.8 453.8,230.3 459.1,237.8 464.4,243.8 469.8,248.7 475.1,251.5 480.5,253.7 485.8,253.9 491.2,259.8 496.5,266.9 501.8,274.1 507.2,279.8 512.5,284.4 517.9,291.2 523.2,296.1 528.5,298.5 533.9,300.2 539.2,302.8 544.6,306.7 549.9,309.4 555.3,313.4 560.6,322.4 565.9,330.3 571.3,345.3 576.6,358 582,372.7 587.3,388.2 592.7,406.3 598,421.9 603.3,434.7 608.7,447.7 614,449.2 619.4,453.1 624.7,455.8 630,453.1 635.4,444 640.7,441.3 646.1,435.8 651.4,432 656.8,431.6 662.1,428.7 667.4,422 672.8,417.5 678.1,414.7 683.5,405.3 688.8,394.6 694.2,380.6 699.5,366.4 704.8,355.5 710.2,343.7 715.5,333.8 720.9,325.6 726.2,316.7 731.5,311.3 736.9,311 742.2,311.9 747.6,310.2 752.9,309.9 758.3,307.8 763.6,308.2 768.9,314.8 774.3,321.7 779.6,325.7 785,332.4 790.3,339.1 795.6,347.1 801,352.1 806.3,355.4 811.7,356.5 817,353.5 822.4,352.2 827.7,349.3 833,345.1 838.4,341.2 843.7,339.4 849.1,338.1 854.4,335.8 859.8,335.4 865.1,335.1 870.4,334.4 875.8,334.9 881.1,335.5 886.5,336.5 891.8,337.2 897.1,337.3 902.5,336.3 907.8,331.9 913.2,329.6 918.5,327.2 923.9,321.9 929.2,316.5 934.5,310.2 939.9,304.8 945.2,300.7 950.6,301.4 955.9,299.8 961.3,297.2 966.6,296 971.9,297.1 977.3,299.3 982.6,299.8 988,302.1 993.3,301.9 998.6,303.1 1004,304.6 1009.3,305.1 1014.7,304.5 1020,303.8 1025.4,305.1" fill="none" stroke="#4f92d6" stroke-width="1.4" stroke-linejoin="round"/>
<polyline points="127.9,176.5 133.2,174.6 138.6,172 143.9,166.4 149.3,163.7 154.6,160.7 160,158 165.3,155.2 170.6,154.3 176,151.2 181.3,148.9 186.7,146.4 192,145.1 197.3,144.4 202.7,144.2 208,143.3 213.4,142.2 218.7,141.3 224.1,140.1 229.4,139.1 234.7,139.4 240.1,138.8 245.4,138.1 250.8,138 256.1,137.7 261.4,137.2 266.8,135.3 272.1,133.7 277.5,132.7 282.8,132.3 288.2,131.6 293.5,131.2 298.8,131.9 304.2,132.1 309.5,133.3 314.9,136.8 320.2,141.6 325.6,145.2 330.9,147 336.2,148.8 341.6,150.9 346.9,153.3 352.3,155.7 357.6,157.7 362.9,160.4 368.3,162.4 373.6,163.5 379,165.7 384.3,167.6 389.7,169.1 395,170.8 400.3,173.2 405.7,175.3 411,177.3 416.4,179 421.7,181.8 427.1,185.4 432.4,189 437.7,192.2 443.1,197 448.4,199.4 453.8,200.4 459.1,200.1 464.4,201.9 469.8,205.4 475.1,208.1 480.5,210.6 485.8,213.5 491.2,217.4 496.5,222 501.8,226.3 507.2,231.5 512.5,236.4 517.9,241.2 523.2,246 528.5,250.3 533.9,255.3 539.2,260.3 544.6,266.1 549.9,271.6 555.3,277.4 560.6,283.8 565.9,288.9 571.3,295.8 576.6,302.1 582,308.4 587.3,316.7 592.7,325.8 598,334 603.3,342.5 608.7,350.2 614,356.6 619.4,363.4 624.7,370.5 630,376.1 635.4,380.3 640.7,385.5 646.1,390.5 651.4,395.6 656.8,399.8 662.1,404.2 667.4,408.5 672.8,412.2 678.1,414.7 683.5,415.8 688.8,416.7 694.2,416.3 699.5,413.3 704.8,412 710.2,408 715.5,404.7 720.9,400.2 726.2,393.8 731.5,387.5 736.9,382.2 742.2,375.6 747.6,369.7 752.9,365.1 758.3,360 763.6,354.8 768.9,351.3 774.3,349.8 779.6,346.6 785,343.8 790.3,341 795.6,339.2 801,336.5 806.3,334.3 811.7,332.5 817,331 822.4,330.3 827.7,329.8 833,330.1 838.4,331.4 843.7,331.5 849.1,332.6 854.4,333.1 859.8,334 865.1,335.9 870.4,336.9 875.8,337.5 881.1,338.7 886.5,339.6 891.8,341 897.1,342.2 902.5,342.7 907.8,341.2 913.2,339.4 918.5,337.9 923.9,335.4 929.2,332.7 934.5,329.6 939.9,327.7 945.2,325.8 950.6,324.3 955.9,322.9 961.3,321 966.6,319 971.9,317.9 977.3,316.7 982.6,315.5 988,314.8 993.3,313.8 998.6,312.9 1004,311.6 1009.3,310 1014.7,308.6 1020,307 1025.4,305.8" fill="none" stroke="#e6914a" stroke-width="1.4" stroke-linejoin="round"/>
<polyline points="127.9,176.5 133.2,172.7 138.6,166.7 143.9,149.6 149.3,152.7 154.6,146 160,141.4 165.3,136 170.6,147 176,123 181.3,126 186.7,119.7 192,128.7 197.3,135.4 202.7,142 208,130 213.4,124.7 218.7,125.4 224.1,118 229.4,119.7 234.7,146 240.1,125.4 245.4,124 250.8,136.3 256.1,129.4 261.4,124.7 266.8,126 272.1,133.1 277.5,139.2 282.8,140.3 288.2,134.6 293.5,135.7 298.8,159.7 304.2,141.5 309.5,178 314.9,214.3 320.2,250.8 325.6,213.2 330.9,175.7 336.2,182.3 341.6,195.1 346.9,193.1 352.3,186.5 357.6,176.9 362.9,188 368.3,171.5 373.6,176.6 379,181.8 384.3,173.1 389.7,175.4 395,174.2 400.3,185.4 405.7,181.2 411,186.2 416.4,183.8 421.7,213.1 427.1,227.2 432.4,230 437.7,241.5 443.1,266.6 448.4,242 453.8,238.2 459.1,243.8 464.4,261.1 469.8,266.2 475.1,252.6 480.5,259.2 485.8,268.5 491.2,289.2 496.5,294.6 501.8,301.5 507.2,306.9 512.5,302.3 517.9,307.7 523.2,297.7 528.5,288.2 533.9,303.1 539.2,314.6 544.6,332.8 549.9,328.8 555.3,334.6 560.6,379.2 565.9,361.5 571.3,407.7 576.6,405.1 582,431.5 587.3,456.9 592.7,474.2 598,458.8 603.3,481.5 608.7,466.2 614,419.7 619.4,436.2 624.7,453.1 630,435.4 635.4,401.5 640.7,436.9 646.1,437.7 651.4,435.7 656.8,416.2 662.1,413.1 667.4,399.7 672.8,398.9 678.1,379.2 683.5,362.3 688.8,351.5 694.2,323.8 699.5,302.6 704.8,325.7 710.2,305.1 715.5,320 720.9,313.8 726.2,290.8 731.5,308.5 736.9,321.5 742.2,309.7 747.6,312.3 752.9,302.3 758.3,303.5 763.6,316.9 768.9,343.8 774.3,363.5 779.6,353.5 785,363.4 790.3,365.4 795.6,366.9 801,343.5 806.3,343.1 811.7,352.3 817,339.8 822.4,343.3 827.7,340 833,331.8 838.4,335.8 843.7,328.9 849.1,332.5 854.4,334.5 859.8,336.2 865.1,340.7 870.4,335.1 875.8,335.4 881.1,340.7 886.5,336.7 891.8,338 897.1,335.8 902.5,328.3 907.8,305.5 913.2,316.7 918.5,315.6 923.9,298.8 929.2,293.5 934.5,287.3 939.9,292.8 945.2,295.5 950.6,311.3 955.9,303.4 961.3,294.8 966.6,289.2 971.9,302.7 977.3,304.7 982.6,297.2 988,313.7 993.3,309.7 998.6,312.6 1004,307.3 1009.3,292.4 1014.7,298.1 1020,299.4 1025.4,307.1" fill="none" stroke="#ffffff" stroke-width="2" stroke-linejoin="round"/>
<rect x="83.0" y="99.7" width="987.1" height="399.7" fill="none" stroke="#21262d" stroke-width="0.8"/>
<g stroke="#ced5dc" stroke-width="0.9">
<line x1="90.3" y1="499.4" x2="90.3" y2="502.9"/>
<line x1="218.5" y1="499.4" x2="218.5" y2="502.9"/>
<line x1="346.7" y1="499.4" x2="346.7" y2="502.9"/>
<line x1="474.9" y1="499.4" x2="474.9" y2="502.9"/>
<line x1="603.1" y1="499.4" x2="603.1" y2="502.9"/>
<line x1="731.3" y1="499.4" x2="731.3" y2="502.9"/>
<line x1="859.5" y1="499.4" x2="859.5" y2="502.9"/>
<line x1="987.7" y1="499.4" x2="987.7" y2="502.9"/>
<line x1="79.4" y1="140.6" x2="83.0" y2="140.6"/>
<line x1="79.4" y1="185.4" x2="83.0" y2="185.4"/>
<line x1="79.4" y1="230.3" x2="83.0" y2="230.3"/>
<line x1="79.4" y1="275.1" x2="83.0" y2="275.1"/>
<line x1="79.4" y1="320" x2="83.0" y2="320"/>
<line x1="79.4" y1="364.8" x2="83.0" y2="364.8"/>
<line x1="79.4" y1="409.6" x2="83.0" y2="409.6"/>
<line x1="79.4" y1="454.5" x2="83.0" y2="454.5"/>
</g>
<text x="28" y="144.9" font-size="11" fill="#ced5dc" text-anchor="start" textLength="45.6" lengthAdjust="spacingAndGlyphs">$78,000</text>
<text x="28" y="189.7" font-size="11" fill="#ced5dc" text-anchor="start" textLength="45.6" lengthAdjust="spacingAndGlyphs">$76,000</text>
<text x="28" y="234.6" font-size="11" fill="#ced5dc" text-anchor="start" textLength="45.6" lengthAdjust="spacingAndGlyphs">$74,000</text>
<text x="28" y="279.4" font-size="11" fill="#ced5dc" text-anchor="start" textLength="45.6" lengthAdjust="spacingAndGlyphs">$72,000</text>
<text x="28" y="324.3" font-size="11" fill="#ced5dc" text-anchor="start" textLength="45.6" lengthAdjust="spacingAndGlyphs">$70,000</text>
<text x="28" y="369.1" font-size="11" fill="#ced5dc" text-anchor="start" textLength="45.6" lengthAdjust="spacingAndGlyphs">$68,000</text>
<text x="28" y="413.9" font-size="11" fill="#ced5dc" text-anchor="start" textLength="45.6" lengthAdjust="spacingAndGlyphs">$66,000</text>
<text x="28" y="458.8" font-size="11" fill="#ced5dc" text-anchor="start" textLength="45.6" lengthAdjust="spacingAndGlyphs">$64,000</text>
<rect x="88" y="104.7" width="75.5" height="51.2" rx="1.5" fill="#141920" fill-opacity="0.88" stroke="#262c35" stroke-width="0.8"/>
<line x1="91.7" y1="114.2" x2="113.4" y2="114.2" stroke="#ffffff" stroke-width="2"/>
<text x="120.9" y="117.8" font-size="10" fill="#ced5dc" text-anchor="start" textLength="23.4" lengthAdjust="spacingAndGlyphs">Price</text>
<line x1="91.7" y1="130.1" x2="113.4" y2="130.1" stroke="#4f92d6" stroke-width="1.2"/>
<text x="120.9" y="133.7" font-size="10" fill="#ced5dc" text-anchor="start" textLength="32.2" lengthAdjust="spacingAndGlyphs">7D MA</text>
<line x1="91.7" y1="145.9" x2="113.4" y2="145.9" stroke="#e6914a" stroke-width="1.2"/>
<text x="120.9" y="149.5" font-size="10" fill="#ced5dc" text-anchor="start" textLength="39.2" lengthAdjust="spacingAndGlyphs">25D MA</text>
<rect x="83.0" y="516.9" width="987.1" height="132.9" fill="#161b22"/>
<polygon points="130.1,556.8 130.1,556.8 133.2,517.3 138.6,517.3 143.9,517.3 149.3,556.6 149.5,556.8 149.5,556.8" fill="#f85149" fill-opacity="0.24"/>
<polygon points="851.9,556.8 851.9,556.8 854.4,551.6 859.8,550.3 865.1,546.3 870.4,548.7 875.8,548 880.2,556.8 880.2,556.8" fill="#f85149" fill-opacity="0.24"/>
<polygon points="905.3,556.8 905.3,556.8 907.8,551.4 912.2,556.8 912.2,556.8" fill="#f85149" fill-opacity="0.24"/>
<polygon points="923.8,556.8 923.8,556.8 923.9,556.7 924.2,556.8 924.2,556.8" fill="#f85149" fill-opacity="0.24"/>
<polygon points="580.6,609.9 580.6,609.9 582,610.7 587.3,614.3 592.7,611.7 598,610.3 603.3,610.3 603.9,609.9 603.9,609.9" fill="#3fb950" fill-opacity="0.24"/>
<g stroke="#262c35" stroke-width="0.7" opacity="0.32" stroke-dasharray="3,1.6">
<line x1="90.3" y1="516.9" x2="90.3" y2="649.8"/>
<line x1="218.5" y1="516.9" x2="218.5" y2="649.8"/>
<line x1="346.7" y1="516.9" x2="346.7" y2="649.8"/>
<line x1="474.9" y1="516.9" x2="474.9" y2="649.8"/>
<line x1="603.1" y1="516.9" x2="603.1" y2="649.8"/>
<line x1="731.3" y1="516.9" x2="731.3" y2="649.8"/>
<line x1="859.5" y1="516.9" x2="859.5" y2="649.8"/>
<line x1="987.7" y1="516.9" x2="987.7" y2="649.8"/>
<line x1="83.0" y1="649.8" x2="1070.1" y2="649.8"/>
<line x1="83.0" y1="623.2" x2="1070.1" y2="623.2"/>
<line x1="83.0" y1="596.6" x2="1070.1" y2="596.6"/>
<line x1="83.0" y1="570.1" x2="1070.1" y2="570.1"/>
<line x1="83.0" y1="543.5" x2="1070.1" y2="543.5"/>
<line x1="83.0" y1="516.9" x2="1070.1" y2="516.9"/>
</g>
<line x1="83.0" y1="556.8" x2="1070.1" y2="556.8" stroke="#a86064" stroke-width="0.75" stroke-dasharray="3.7,1.65"/>
<line x1="83.0" y1="609.9" x2="1070.1" y2="609.9" stroke="#56a06a" stroke-width="0.75" stroke-dasharray="3.7,1.65"/>
<polyline points="127.9,583.7 133.2,517.3 138.6,517.3 143.9,517.3 149.3,556.6 154.6,559.1 160,561.4 165.3,563.1 170.6,582.5 176,573.5 181.3,566.9 186.7,568 192,571.8 197.3,571.3 202.7,572 208,571 213.4,570.5 218.7,564.7 224.1,568.8 229.4,567.2 234.7,577.6 240.1,570.7 245.4,572.7 250.8,573.8 256.1,581.4 261.4,587.1 266.8,582 272.1,580.7 277.5,581.1 282.8,577.4 288.2,581.6 293.5,576.7 298.8,588 304.2,581 309.5,591.8 314.9,595.4 320.2,608.1 325.6,587.6 330.9,580 336.2,573.4 341.6,567.4 346.9,576 352.3,582 357.6,587.1 362.9,590 368.3,586.7 373.6,587.6 379,583.8 384.3,586 389.7,578.7 395,575.6 400.3,561.4 405.7,570.7 411,584.7 416.4,589.1 421.7,597.7 427.1,596.3 432.4,592.7 437.7,597 443.1,601.7 448.4,593.8 453.8,598.5 459.1,599.1 464.4,601.7 469.8,602.5 475.1,591.8 480.5,590.7 485.8,585.4 491.2,590 496.5,580.3 501.8,575.4 507.2,572.7 512.5,580.7 517.9,578.7 523.2,574.7 528.5,584 533.9,582.3 539.2,584.3 544.6,584.7 549.9,590.4 555.3,594.7 560.6,604.1 565.9,596.3 571.3,602.1 576.6,607.7 582,610.7 587.3,614.3 592.7,611.7 598,610.3 603.3,610.3 608.7,606.7 614,593.4 619.4,594.7 624.7,595 630,590.7 635.4,590 640.7,588.7 646.1,592.7 651.4,593.8 656.8,589.4 662.1,592.3 667.4,591.4 672.8,596.3 678.1,596.1 683.5,595.4 688.8,596.1 694.2,600.1 699.5,603.1 704.8,606.1 710.2,605.4 715.5,603.4 720.9,596.1 726.2,591.6 731.5,588 736.9,587.1 742.2,585 747.6,579.6 752.9,577.1 758.3,572.4 763.6,573.8 768.9,577.1 774.3,581.4 779.6,585.4 785,582.3 790.3,583 795.6,579 801,570.7 806.3,571 811.7,569 817,568 822.4,565.4 827.7,572.7 833,574 838.4,575 843.7,575.4 849.1,562.7 854.4,551.6 859.8,550.3 865.1,546.3 870.4,548.7 875.8,548 881.1,558.7 886.5,564.4 891.8,557.4 897.1,565.4 902.5,562.7 907.8,551.4 913.2,558 918.5,562 923.9,556.7 929.2,558 934.5,562 939.9,566.7 945.2,564 950.6,572.7 955.9,577.4 961.3,578.7 966.6,578.3 971.9,588 977.3,580.4 982.6,580.7 988,591.4 993.3,592.7 998.6,586.2 1004,592.7 1009.3,587.4 1014.7,585 1020,582.4 1025.4,585.4" fill="none" stroke="#d873e0" stroke-width="1.5" stroke-linejoin="round"/>
<rect x="83.0" y="516.9" width="987.1" height="132.9" fill="none" stroke="#21262d" stroke-width="0.8"/>
<g stroke="#ced5dc" stroke-width="0.9">
<line x1="90.3" y1="649.8" x2="90.3" y2="653.3"/>
<line x1="218.5" y1="649.8" x2="218.5" y2="653.3"/>
<line x1="346.7" y1="649.8" x2="346.7" y2="653.3"/>
<line x1="474.9" y1="649.8" x2="474.9" y2="653.3"/>
<line x1="603.1" y1="649.8" x2="603.1" y2="653.3"/>
<line x1="731.3" y1="649.8" x2="731.3" y2="653.3"/>
<line x1="859.5" y1="649.8" x2="859.5" y2="653.3"/>
<line x1="987.7" y1="649.8" x2="987.7" y2="653.3"/>
<line x1="79.4" y1="649.8" x2="83.0" y2="649.8"/>
<line x1="79.4" y1="623.2" x2="83.0" y2="623.2"/>
<line x1="79.4" y1="596.6" x2="83.0" y2="596.6"/>
<line x1="79.4" y1="570.1" x2="83.0" y2="570.1"/>
<line x1="79.4" y1="543.5" x2="83.0" y2="543.5"/>
<line x1="79.4" y1="516.9" x2="83.0" y2="516.9"/>
</g>
<text x="66.6" y="654.1" font-size="11" fill="#ced5dc" text-anchor="start" textLength="7" lengthAdjust="spacingAndGlyphs">0</text>
<text x="59.6" y="627.5" font-size="11" fill="#ced5dc" text-anchor="start" textLength="14" lengthAdjust="spacingAndGlyphs">20</text>
<text x="59.6" y="600.9" font-size="11" fill="#ced5dc" text-anchor="start" textLength="14" lengthAdjust="spacingAndGlyphs">40</text>
<text x="59.6" y="574.4" font-size="11" fill="#ced5dc" text-anchor="start" textLength="14" lengthAdjust="spacingAndGlyphs">60</text>
<text x="59.6" y="547.8" font-size="11" fill="#ced5dc" text-anchor="start" textLength="14" lengthAdjust="spacingAndGlyphs">80</text>
<text x="53.1" y="521.2" font-size="11" fill="#ced5dc" text-anchor="start" textLength="20.5" lengthAdjust="spacingAndGlyphs">100</text>
<text transform="translate(45.2,584.9) rotate(-90)" font-size="11" fill="#ced5dc" text-anchor="middle" textLength="40.5" lengthAdjust="spacingAndGlyphs">RSI(14)</text>
<rect x="83.0" y="667.6" width="987.1" height="133" fill="#161b22"/>
<polygon points="127.9,794.8 127.9,794.8 133.2,787.1 138.6,785.4 143.9,769.3 149.3,766.8 154.6,768.8 160,770.9 165.3,772.6 170.6,766.8 176,759.6 181.3,760.1 186.7,761.3 192,760.1 197.3,759.7 202.7,759.8 208,758.7 213.4,758.7 218.7,758.5 224.1,761.4 229.4,762.1 234.7,752.7 240.1,748.7 245.4,749.1 250.8,748.7 256.1,753.8 261.4,754.1 266.8,754.5 272.1,754.7 277.5,755 282.8,755.8 288.2,757.1 293.5,757.7 298.8,752.1 304.2,748.3 309.5,739.4 314.9,734.7 320.2,730.7 325.6,718.7 330.9,706.4 336.2,707.4 341.6,707.4 346.9,707.1 352.3,706.3 357.6,705.4 362.9,705 368.3,703.4 373.6,703.4 379,705.4 384.3,707 389.7,713.4 395,722 400.3,734.7 405.7,744.7 411,762.7 416.4,763.4 421.7,753.8 427.1,752.5 432.4,753.1 437.7,754.7 443.1,750.1 448.4,745.4 453.8,744.7 459.1,744.7 464.4,745 469.8,745.1 475.1,741.6 480.5,741.8 485.8,742.3 491.2,740 496.5,740.7 501.8,745.6 507.2,746.3 512.5,744.9 517.9,745.6 523.2,748.7 528.5,755.6 533.9,754.1 539.2,753.4 544.6,753.3 549.9,752.6 555.3,757.6 560.6,738.3 565.9,732.3 571.3,720.1 576.6,719.1 582,716.6 587.3,713.4 592.7,714.9 598,709.7 603.3,712 608.7,709.4 614,686.3 619.4,685.9 624.7,685.9 630,683 635.4,673.7 640.7,675.9 646.1,678.7 651.4,689 656.8,685.9 662.1,689.4 667.4,694.4 672.8,698 678.1,698.3 683.5,703 688.8,703.7 694.2,713.4 699.5,717.7 704.8,715.4 710.2,715.1 715.5,718 720.9,735.1 726.2,734.9 731.5,729.1 736.9,726.6 742.2,726.6 747.6,726.3 752.9,726.6 758.3,727.3 763.6,727 768.9,720.6 774.3,725.1 779.6,728.7 785,732 790.3,737.3 795.6,738.7 801,732.3 806.3,738 811.7,739.7 817,739.1 822.4,741.1 827.7,741.3 833,741.6 838.4,741.6 843.7,742.3 849.1,751.6 854.4,757.7 859.8,758.7 865.1,760.4 870.4,760.6 875.8,760.6 881.1,770.6 886.5,770.1 891.8,772.6 897.1,776.3 902.5,775.1 907.8,765.4 913.2,763.3 918.5,763.4 923.9,760.1 929.2,760.6 934.5,760.6 939.9,759.9 945.2,760.4 950.6,755.1 955.9,754.4 961.3,755.1 966.6,755.4 971.9,751.6 977.3,751.1 982.6,751.6 988,753.7 993.3,755.4 998.6,755.1 1004,759.4 1009.3,756.3 1014.7,756.6 1020,756.9 1025.4,756.3 1025.4,794.8" fill="#26c6da" fill-opacity="0.4" stroke="#26c6da" stroke-opacity="0.5" stroke-width="1"/>
<g stroke="#262c35" stroke-width="0.7" opacity="0.5" stroke-dasharray="3.7,1.6">
<line x1="90.3" y1="667.6" x2="90.3" y2="800.6"/>
<line x1="218.5" y1="667.6" x2="218.5" y2="800.6"/>
<line x1="346.7" y1="667.6" x2="346.7" y2="800.6"/>
<line x1="474.9" y1="667.6" x2="474.9" y2="800.6"/>
<line x1="603.1" y1="667.6" x2="603.1" y2="800.6"/>
<line x1="731.3" y1="667.6" x2="731.3" y2="800.6"/>
<line x1="859.5" y1="667.6" x2="859.5" y2="800.6"/>
<line x1="987.7" y1="667.6" x2="987.7" y2="800.6"/>
<line x1="83.0" y1="794.8" x2="1070.1" y2="794.8"/>
<line x1="83.0" y1="761.8" x2="1070.1" y2="761.8"/>
<line x1="83.0" y1="728.8" x2="1070.1" y2="728.8"/>
<line x1="83.0" y1="695.8" x2="1070.1" y2="695.8"/>
</g>
<polyline points="127.9,794.8 133.2,787.1 138.6,785.4 143.9,769.3 149.3,766.8 154.6,768.8 160,770.9 165.3,772.6 170.6,766.8 176,759.6 181.3,760.1 186.7,761.3 192,760.1 197.3,759.7 202.7,759.8 208,758.7 213.4,758.7 218.7,758.5 224.1,761.4 229.4,762.1 234.7,752.7 240.1,748.7 245.4,749.1 250.8,748.7 256.1,753.8 261.4,754.1 266.8,754.5 272.1,754.7 277.5,755 282.8,755.8 288.2,757.1 293.5,757.7 298.8,752.1 304.2,748.3 309.5,739.4 314.9,734.7 320.2,730.7 325.6,718.7 330.9,706.4 336.2,707.4 341.6,707.4 346.9,707.1 352.3,706.3 357.6,705.4 362.9,705 368.3,703.4 373.6,703.4 379,705.4 384.3,707 389.7,713.4 395,722 400.3,734.7 405.7,744.7 411,762.7 416.4,763.4 421.7,753.8 427.1,752.5 432.4,753.1 437.7,754.7 443.1,750.1 448.4,745.4 453.8,744.7 459.1,744.7 464.4,745 469.8,745.1 475.1,741.6 480.5,741.8 485.8,742.3 491.2,740 496.5,740.7 501.8,745.6 507.2,746.3 512.5,744.9 517.9,745.6 523.2,748.7 528.5,755.6 533.9,754.1 539.2,753.4 544.6,753.3 549.9,752.6 555.3,757.6 560.6,738.3 565.9,732.3 571.3,720.1 576.6,719.1 582,716.6 587.3,713.4 592.7,714.9 598,709.7 603.3,712 608.7,709.4 614,686.3 619.4,685.9 624.7,685.9 630,683 635.4,673.7 640.7,675.9 646.1,678.7 651.4,689 656.8,685.9 662.1,689.4 667.4,694.4 672.8,698 678.1,698.3 683.5,703 688.8,703.7 694.2,713.4 699.5,717.7 704.8,715.4 710.2,715.1 715.5,718 720.9,735.1 726.2,734.9 731.5,729.1 736.9,726.6 742.2,726.6 747.6,726.3 752.9,726.6 758.3,727.3 763.6,727 768.9,720.6 774.3,725.1 779.6,728.7 785,732 790.3,737.3 795.6,738.7 801,732.3 806.3,738 811.7,739.7 817,739.1 822.4,741.1 827.7,741.3 833,741.6 838.4,741.6 843.7,742.3 849.1,751.6 854.4,757.7 859.8,758.7 865.1,760.4 870.4,760.6 875.8,760.6 881.1,770.6 886.5,770.1 891.8,772.6 897.1,776.3 902.5,775.1 907.8,765.4 913.2,763.3 918.5,763.4 923.9,760.1 929.2,760.6 934.5,760.6 939.9,759.9 945.2,760.4 950.6,755.1 955.9,754.4 961.3,755.1 966.6,755.4 971.9,751.6 977.3,751.1 982.6,751.6 988,753.7 993.3,755.4 998.6,755.1 1004,759.4 1009.3,756.3 1014.7,756.6 1020,756.9 1025.4,756.3" fill="none" stroke="#3cbace" stroke-width="1.35" stroke-linejoin="round"/>
<rect x="83.0" y="667.6" width="987.1" height="133" fill="none" stroke="#21262d" stroke-width="0.8"/>
<g stroke="#ced5dc" stroke-width="0.9">
<line x1="90.3" y1="800.6" x2="90.3" y2="804.1"/>
<line x1="218.5" y1="800.6" x2="218.5" y2="804.1"/>
<line x1="346.7" y1="800.6" x2="346.7" y2="804.1"/>
<line x1="474.9" y1="800.6" x2="474.9" y2="804.1"/>
<line x1="603.1" y1="800.6" x2="603.1" y2="804.1"/>
<line x1="731.3" y1="800.6" x2="731.3" y2="804.1"/>
<line x1="859.5" y1="800.6" x2="859.5" y2="804.1"/>
<line x1="987.7" y1="800.6" x2="987.7" y2="804.1"/>
<line x1="79.4" y1="794.8" x2="83.0" y2="794.8"/>
<line x1="79.4" y1="761.8" x2="83.0" y2="761.8"/>
<line x1="79.4" y1="728.8" x2="83.0" y2="728.8"/>
<line x1="79.4" y1="695.8" x2="83.0" y2="695.8"/>
</g>
<text x="56.1" y="799.1" font-size="11" fill="#ced5dc" text-anchor="start" textLength="17.5" lengthAdjust="spacingAndGlyphs">0.0</text>
<text x="56.1" y="766.1" font-size="11" fill="#ced5dc" text-anchor="start" textLength="17.5" lengthAdjust="spacingAndGlyphs">0.5</text>
<text x="56.1" y="733.1" font-size="11" fill="#ced5dc" text-anchor="start" textLength="17.5" lengthAdjust="spacingAndGlyphs">1.0</text>
<text x="56.1" y="700.1" font-size="11" fill="#ced5dc" text-anchor="start" textLength="17.5" lengthAdjust="spacingAndGlyphs">1.5</text>
<text transform="translate(48,735.6) rotate(-90)" font-size="11" fill="#ced5dc" text-anchor="middle" textLength="48" lengthAdjust="spacingAndGlyphs">Volatility</text>
<text transform="translate(89,828) rotate(-45)" y="4" font-size="11" fill="#ced5dc" text-anchor="middle" textLength="37.5" lengthAdjust="spacingAndGlyphs">Feb 02</text>
<text transform="translate(217.2,828) rotate(-45)" y="4" font-size="11" fill="#ced5dc" text-anchor="middle" textLength="37.5" lengthAdjust="spacingAndGlyphs">Feb 03</text>
<text transform="translate(345.4,828) rotate(-45)" y="4" font-size="11" fill="#ced5dc" text-anchor="middle" textLength="37.5" lengthAdjust="spacingAndGlyphs">Feb 04</text>
<text transform="translate(473.6,828) rotate(-45)" y="4" font-size="11" fill="#ced5dc" text-anchor="middle" textLength="37.5" lengthAdjust="spacingAndGlyphs">Feb 05</text>
<text transform="translate(601.8,828) rotate(-45)" y="4" font-size="11" fill="#ced5dc" text-anchor="middle" textLength="37.5" lengthAdjust="spacingAndGlyphs">Feb 06</text>
<text transform="translate(730,828) rotate(-45)" y="4" font-size="11" fill="#ced5dc" text-anchor="middle" textLength="37.5" lengthAdjust="spacingAndGlyphs">Feb 07</text>
<text transform="translate(858.2,828) rotate(-45)" y="4" font-size="11" fill="#ced5dc" text-anchor="middle" textLength="37.5" lengthAdjust="spacingAndGlyphs">Feb 08</text>
<text transform="translate(986.4,828) rotate(-45)" y="4" font-size="11" fill="#ced5dc" text-anchor="middle" textLength="37.5" lengthAdjust="spacingAndGlyphs">Feb 09</text>
<text x="1080" y="880" font-size="10.5" fill="#3a4049" font-style="italic" textLength="92" lengthAdjust="spacingAndGlyphs">@Rebound_Trader</text>
</svg>
</body></html>
